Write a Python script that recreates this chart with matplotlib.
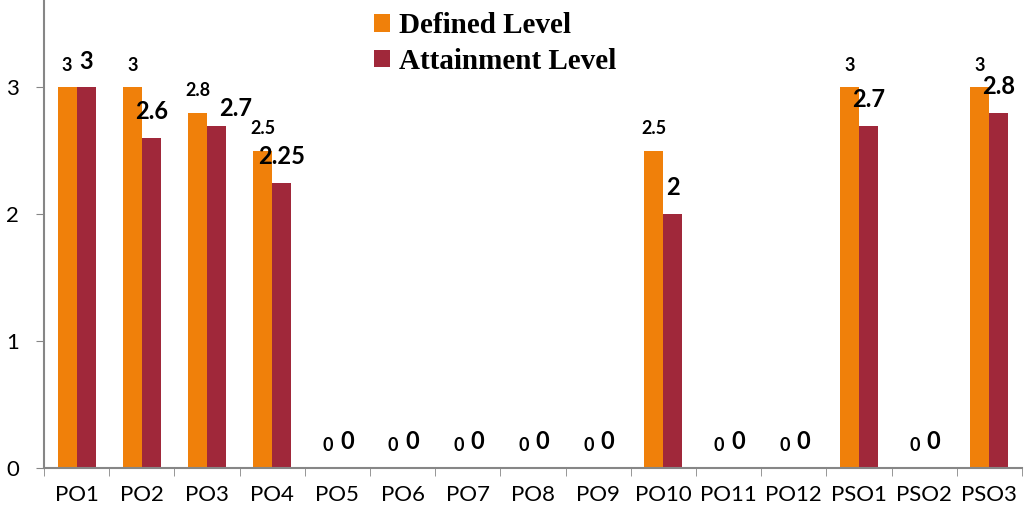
import numpy as np
import matplotlib.pyplot as plt

# categories and values
outcomes = ['PO1', 'PO2', 'PO3', 'PO4', 'PO5', 'PO6', 'PO7', 'PO8', 'PO9',
            'PO10', 'PO11', 'PO12', 'PSO1', 'PSO2', 'PSO3']
defined_level = [3, 3, 2.8, 2.5, 0, 0, 0, 0, 0, 2.5, 0, 0, 3, 0, 3]
attainment_level = [3, 2.6, 2.7, 2.25, 0, 0, 0, 0, 0, 2, 0, 0, 2.7, 0, 2.8]

orange = '#F0800A'
maroon = '#A0283A'
axis_grey = '#868686'

fig = plt.figure(figsize=(10.24, 5.13), dpi=100)
ax = fig.add_axes([0.043, 0.088, 0.955, 0.912])

x = np.arange(len(outcomes))
w = 0.29
ax.bar(x - w / 2, defined_level, w, color=orange, label='Defined Level')
ax.bar(x + w / 2, attainment_level, w, color=maroon, label='Attainment Level')

# data labels (PO3 attainment label was nudged right in the original)
for xi, v in zip(x, defined_level):
    ax.annotate(f'{v:g}', (xi - w / 2, v), xytext=(0, 16), textcoords='offset points',
                ha='center', va='center', fontsize=13, fontweight='bold', family='Lato')
for xi, v in zip(x, attainment_level):
    dx, dy = (14, 12) if outcomes[xi] == 'PO3' else (0, 19)
    ax.annotate(f'{v:g}', (xi + w / 2, v), xytext=(dx, dy), textcoords='offset points',
                ha='center', va='center', fontsize=17, fontweight='bold', family='Lato')

ax.set_xlim(-0.5, len(outcomes) - 0.5)
ax.set_ylim(0, 3.69)
ax.set_yticks([0, 1, 2, 3])
ax.set_xticks(x)
ax.set_xticklabels(outcomes)
ax.set_xticks(np.arange(-0.5, len(outcomes)), minor=True)
ax.tick_params(axis='x', which='major', length=0, pad=12, labelsize=16)
ax.tick_params(axis='x', which='minor', length=6, color=axis_grey, direction='out')
ax.tick_params(axis='y', length=6, color=axis_grey, labelsize=16, pad=12)
for lab in ax.get_xticklabels() + ax.get_yticklabels():
    lab.set_family('Lato')

for s in ['top', 'right']:
    ax.spines[s].set_visible(False)
ax.spines['left'].set_color(axis_grey)
ax.spines['bottom'].set_color(axis_grey)
ax.spines['left'].set_linewidth(1.5)
ax.spines['bottom'].set_linewidth(1.5)

ax.legend(loc='upper left', bbox_to_anchor=(0.311, 1.03), frameon=False,
          prop={'family': 'Liberation Serif', 'weight': 'bold', 'size': 21},
          handlelength=0.55, handleheight=0.55, handletextpad=0.3, labelspacing=0.3)

plt.savefig('out.png')
